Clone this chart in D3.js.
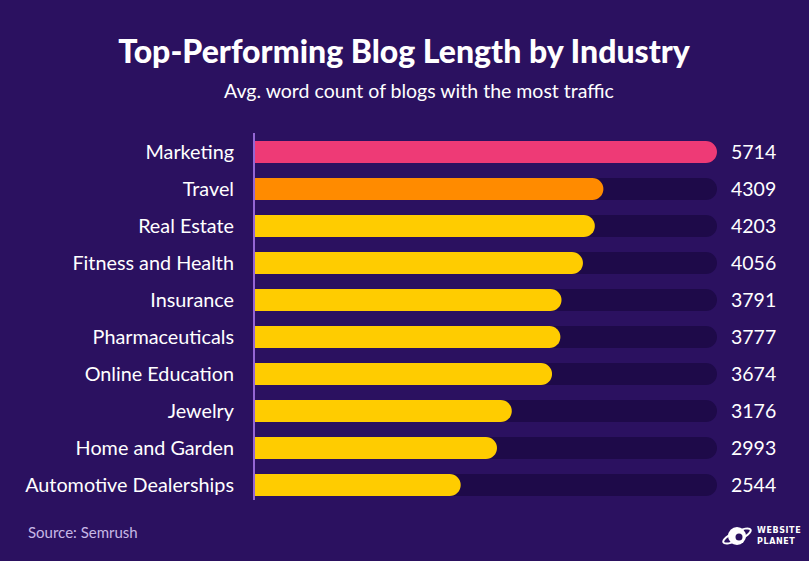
<!DOCTYPE html>
<html><head><meta charset="utf-8">
<script src="https://cdn.jsdelivr.net/npm/d3@7"></script>
<style>html,body{margin:0;padding:0;background:#2b1160;}svg{display:block;}</style>
</head><body>
<script>
const categories = ["Marketing","Travel","Real Estate","Fitness and Health","Insurance","Pharmaceuticals","Online Education","Jewelry","Home and Garden","Automotive Dealerships"];
const values = [5714,4309,4203,4056,3791,3777,3674,3176,2993,2544];
const barColors = ["#ee3a76","#ff8b00","#ffcc00","#ffcc00","#ffcc00","#ffcc00","#ffcc00","#ffcc00","#ffcc00","#ffcc00"];
const title = "Top-Performing Blog Length by Industry";
const subtitle = "Avg. word count of blogs with the most traffic";
const source = "Source: Semrush";

const W = 809, H = 561;
const svg = d3.select("body").append("svg").attr("width", W).attr("height", H);
svg.append("rect").attr("width", W).attr("height", H).attr("fill", "#2b1160");

svg.append("text").attr("x", 404).attr("y", 63).attr("text-anchor","middle")
  .attr("font-family","Lato").attr("font-weight","900").attr("font-size", 32).attr("fill","#fff").text(title);
svg.append("text").attr("x", 419).attr("y", 98).attr("text-anchor","middle")
  .attr("font-family","Lato").attr("font-size", 19.5).attr("fill","#fff").text(subtitle);

const x0 = 255, x1 = 717;
const x = d3.scaleLinear().domain([0, d3.max(values)]).range([x0, x1]);
const y = d3.scaleBand().domain(categories).range([133.5, 503.5]).paddingInner(0.4).paddingOuter(0.2);
const bh = y.bandwidth();

function rightRounded(xl, xr, yt, h){
  const rr = Math.min(h/2, xr - xl);
  return `M${xl},${yt}H${xr-rr}A${rr},${rr} 0 0 1 ${xr},${yt+h/2}A${rr},${rr} 0 0 1 ${xr-rr},${yt+h}H${xl}Z`;
}

const g = svg.append("g");
g.selectAll(".track").data(categories).join("path").attr("class","track")
  .attr("d", c => rightRounded(x0, x1, y(c), bh)).attr("fill", "#1e0a49");
g.selectAll(".bar").data(values).join("path").attr("class","bar")
  .attr("d", (v,i) => rightRounded(x0, x(v), y(categories[i]), bh)).attr("fill", (v,i) => barColors[i]);

g.selectAll(".lab").data(categories).join("text").attr("class","lab")
  .attr("x", 234).attr("y", c => y(c) + bh/2).attr("dy","0.35em").attr("text-anchor","end")
  .attr("font-family","Lato").attr("font-size", 19.8).attr("fill","#fff").text(c => c);
g.selectAll(".val").data(values).join("text").attr("class","val")
  .attr("x", 731).attr("y", (v,i) => y(categories[i]) + bh/2).attr("dy","0.36em")
  .attr("font-family","Lato").attr("font-size", 19.5).attr("fill","#fff").text(v => v);

svg.append("line").attr("x1", 254).attr("x2", 254).attr("y1", 133).attr("y2", 500)
  .attr("stroke", "#9466d4").attr("stroke-width", 2);

svg.append("text").attr("x", 28).attr("y", 538)
  .attr("font-family","Lato").attr("font-size", 15).attr("fill","#c7b8e6").text(source);

// logo
const lg = svg.append("g").attr("transform","translate(737,536)");
lg.append("circle").attr("r", 9).attr("fill","#fff");
lg.append("ellipse").attr("rx", 15).attr("ry", 4.5).attr("transform","rotate(-25)").attr("fill","none").attr("stroke","#fff").attr("stroke-width",2);
lg.append("circle").attr("cx", 2).attr("cy", 1).attr("r", 3.5).attr("fill","#2b1160");
svg.append("text").attr("x", 757).attr("y", 533).attr("font-family","DejaVu Sans").attr("font-weight","bold")
  .attr("font-size", 8).attr("letter-spacing", 0.6).attr("fill","#fff").text("WEBSITE");
svg.append("text").attr("x", 757).attr("y", 544).attr("font-family","DejaVu Sans").attr("font-weight","bold")
  .attr("font-size", 8).attr("letter-spacing", 0.6).attr("fill","#fff").text("PLANET");
</script>
</body></html>
